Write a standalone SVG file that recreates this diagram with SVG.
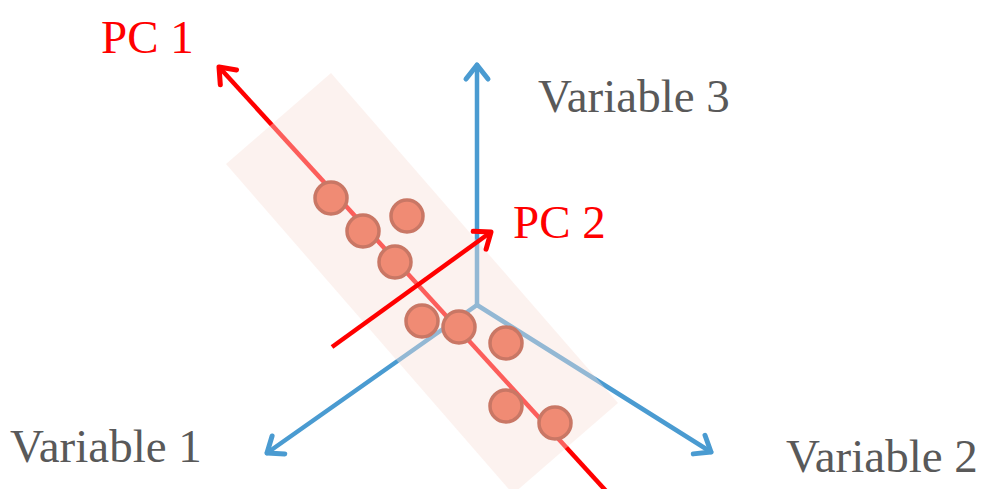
<svg xmlns="http://www.w3.org/2000/svg" width="984" height="489" viewBox="0 0 984 489">
<defs>
<style>
.axis{stroke:#4a9bd1;stroke-width:4.5;fill:none;stroke-linecap:round}
.pc{stroke:#ff0000;stroke-width:4.5;fill:none;stroke-linecap:butt}
.dot{fill:#f08b74;stroke:#c97765;stroke-width:3.5}
.lbl{font-family:"Liberation Serif","Times New Roman",serif;font-size:47px}
.gray{fill:#595959}
.red{fill:#ff0000}
</style>
<marker id="ab" markerUnits="userSpaceOnUse" markerWidth="40" markerHeight="40" viewBox="-20 -20 40 40" refX="0" refY="0" orient="auto">
<path d="M -14 -11 L 0 0 L -14 11" fill="none" stroke="#4a9bd1" stroke-width="5" stroke-linecap="round" stroke-linejoin="round"/>
</marker>
<marker id="ar" markerUnits="userSpaceOnUse" markerWidth="40" markerHeight="40" viewBox="-20 -20 40 40" refX="0" refY="0" orient="auto">
<path d="M -14 -11 L 0 0 L -14 11" fill="none" stroke="#ff0000" stroke-width="5" stroke-linecap="round" stroke-linejoin="round"/>
</marker>
</defs>
<rect width="984" height="489" fill="#ffffff"/>
<g id="connectors">
<line id="var3-axis" class="axis" x1="477" y1="305" x2="477" y2="65" marker-end="url(#ab)"/>
<line id="var1-axis" class="axis" x1="477" y1="305" x2="267" y2="453" marker-end="url(#ab)"/>
<line id="var2-axis" class="axis" x1="477" y1="305" x2="711" y2="452" marker-end="url(#ab)"/>
<line id="pc1-axis" class="pc" x1="607" y1="492" x2="219" y2="67" marker-end="url(#ar)"/>
</g>
<g id="plane">
<polygon points="331,73 618,403 513,494 226,164" fill="rgb(248,224,216)" fill-opacity="0.42"/>
</g>
<g id="points">
<circle class="dot" cx="331" cy="198" r="16"/>
<circle class="dot" cx="363" cy="231" r="16"/>
<circle class="dot" cx="407" cy="216" r="16"/>
<circle class="dot" cx="395" cy="262" r="16"/>
<circle class="dot" cx="422" cy="321" r="16"/>
<circle class="dot" cx="459" cy="327" r="16"/>
<circle class="dot" cx="506" cy="343" r="16"/>
<circle class="dot" cx="506" cy="406" r="16"/>
<circle class="dot" cx="555" cy="423" r="16"/>
</g>
<g id="pc2">
<line id="pc2-axis" class="pc" x1="332" y1="347" x2="491" y2="232" marker-end="url(#ar)"/>
</g>
<g id="labels">
<text id="pc1-label" class="lbl red" x="101" y="53">PC 1</text>
<text id="pc2-label" class="lbl red" x="513" y="238">PC 2</text>
<text id="var3-label" class="lbl gray" x="538" y="112">Variable 3</text>
<text id="var1-label" class="lbl gray" x="10" y="462">Variable 1</text>
<text id="var2-label" class="lbl gray" x="786" y="472">Variable 2</text>
</g>
</svg>
